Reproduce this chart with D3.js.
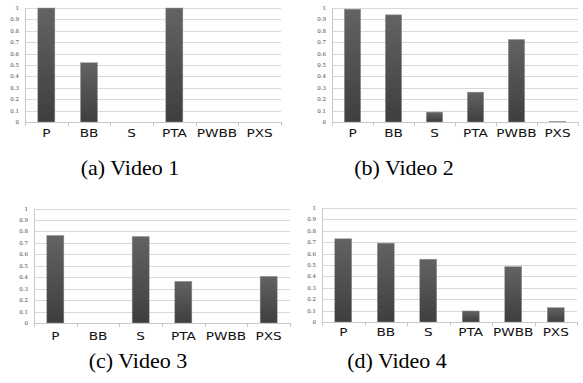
<!DOCTYPE html>
<html><head><meta charset="utf-8">
<script src="https://cdn.jsdelivr.net/npm/d3@7"></script>
<style>body{margin:0;background:#fff;}svg{display:block;}</style>
</head><body>
<svg id="c" width="583" height="383"></svg>
<script>
const categories = ["P","BB","S","PTA","PWBB","PXS"];
const video1 = [1.0, 0.52, 0, 1.0, 0, 0];
const video2 = [0.99, 0.94, 0.087, 0.262, 0.724, 0.005];
const video3 = [0.765, 0, 0.756, 0.364, 0, 0.408];
const video4 = [0.73, 0.692, 0.551, 0.097, 0.486, 0.126];
const captions = ["(a) Video 1","(b) Video 2","(c) Video 3","(d) Video 4"];
const yTicks = [0,0.1,0.2,0.3,0.4,0.5,0.6,0.7,0.8,0.9,1];
const yTickLabels = ["0","0.1","0.2","0.3","0.4","0.5","0.6","0.7","0.8","0.9","1"];

const series = [video1, video2, video3, video4];
const panels = [
  {l:25, r:281, t:8, b:122, capX:130, capY:175, lblY:137},
  {l:332, r:578, t:8, b:122, capX:404, capY:175, lblY:137},
  {l:34, r:290, t:208.5, b:323, capX:138, capY:368, lblY:340},
  {l:322, r:577, t:208, b:322, capX:397, capY:368, lblY:336}
];

const svg = d3.select("#c");
const defs = svg.append("defs");
const grad = defs.append("linearGradient").attr("id","barg").attr("x1",0).attr("y1",0).attr("x2",0).attr("y2",1);
grad.append("stop").attr("offset","0%").attr("stop-color","#636363");
grad.append("stop").attr("offset","100%").attr("stop-color","#3e3e3e");

panels.forEach((p, i) => {
  const g = svg.append("g");
  const x = d3.scaleBand().domain(categories).range([p.l, p.r]).paddingInner(0.6).paddingOuter(0.3);
  const xb = d3.scaleBand().domain(categories).range([p.l, p.r]);
  const y = d3.scaleLinear().domain([0,1]).range([p.b, p.t]);

  // gridlines
  g.selectAll("line.grid").data(yTicks.slice(1)).join("line")
    .attr("x1", p.l).attr("x2", p.r)
    .attr("y1", d => Math.round(y(d))+0.5).attr("y2", d => Math.round(y(d))+0.5)
    .attr("stroke", "#d9d9d9").attr("stroke-width", 1);

  // y axis line
  g.append("line").attr("x1", p.l+0.5).attr("x2", p.l+0.5).attr("y1", p.t).attr("y2", p.b)
    .attr("stroke", "#c8c8c8");
  // y tick labels
  g.selectAll("text.yt").data(yTicks).join("text")
    .attr("x", p.l - 6).attr("y", d => y(d) + 2)
    .attr("text-anchor","end")
    .attr("font-family","'DejaVu Serif', serif")
    .attr("font-size", 5.5).attr("fill","#444")
    .text((d,k) => yTickLabels[k]);

  // bars
  g.selectAll("rect.bar").data(categories.map((c,k)=>({c, v: series[i][k]}))).join("rect")
    .attr("x", d => x(d.c)).attr("width", x.bandwidth())
    .attr("y", d => y(d.v)).attr("height", d => y(0) - y(d.v))
    .attr("fill","url(#barg)").attr("stroke","#9a9a9a").attr("stroke-width",0.5);

  // x axis line
  g.append("line").attr("x1", p.l).attr("x2", p.r).attr("y1", Math.round(p.b)+0.5).attr("y2", Math.round(p.b)+0.5)
    .attr("stroke", "#c8c8c8");
  // ticks at band boundaries
  const bounds = categories.map(c => xb(c)).concat([p.r]);
  g.selectAll("line.xt").data(bounds).join("line")
    .attr("x1", d => Math.round(d)+0.5).attr("x2", d => Math.round(d)+0.5)
    .attr("y1", Math.round(p.b)).attr("y2", Math.round(p.b)+4)
    .attr("stroke","#c8c8c8");
  // x labels
  g.selectAll("text.xl").data(categories).join("text")
    .attr("transform", d => `translate(${xb(d)+xb.bandwidth()/2},${p.lblY}) scale(1.3,1)`)
    .attr("text-anchor","middle")
    .attr("font-family","'DejaVu Sans', sans-serif")
    .attr("font-size", 10.5).attr("fill","#111")
    .text(d => d);

  // caption
  svg.append("text").attr("x", p.capX).attr("y", p.capY)
    .attr("text-anchor","middle")
    .attr("font-family","'Liberation Serif', 'Times New Roman', serif")
    .attr("font-size", 22).attr("fill","#000")
    .text(captions[i]);
});
</script>
</body></html>
